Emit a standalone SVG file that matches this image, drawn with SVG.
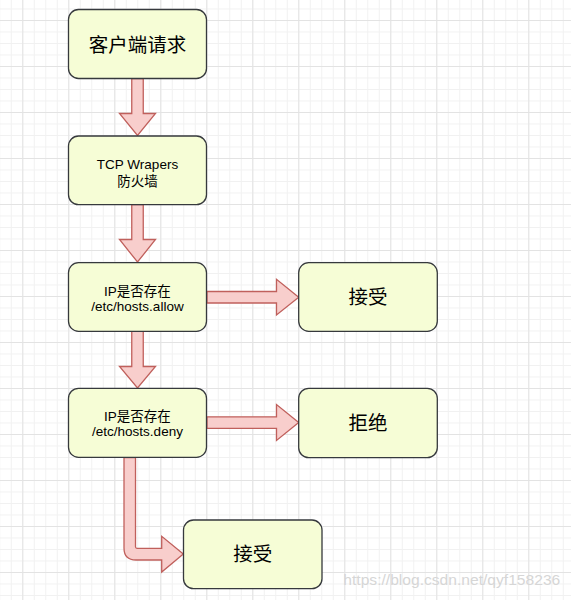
<svg xmlns="http://www.w3.org/2000/svg" width="571" height="600" viewBox="0 0 571 600">
<defs>
<pattern id="minor" x="-0.7" y="-3" width="11.5" height="11.5" patternUnits="userSpaceOnUse">
<path d="M0 0.5 H11.5 M0.5 0 V11.5" stroke="#f1f1f1" stroke-width="1" fill="none"/>
</pattern>
<pattern id="major" x="22.3" y="20" width="46" height="46" patternUnits="userSpaceOnUse">
<path d="M0 0.5 H46 M0.5 0 V46" stroke="#e3e3e3" stroke-width="1" fill="none"/>
</pattern>
<style>
.box{fill:#f6fdd6;stroke:#36393d;stroke-width:1.3}
.arr{fill:#f8cecc;stroke:#c0605c;stroke-width:1.3;stroke-linejoin:miter}
.big{font-family:"Liberation Sans","Noto Sans CJK SC",sans-serif;font-size:19.5px;fill:#000;text-anchor:middle}
.sm{font-family:"Liberation Sans","Noto Sans CJK SC",sans-serif;font-size:13.5px;fill:#000;text-anchor:middle}
</style>
</defs>
<rect width="571" height="600" fill="#ffffff"/>
<rect width="571" height="600" fill="url(#minor)"/>
<rect width="571" height="600" fill="url(#major)"/>

<g id="connectors">
<path class="arr" d="M131.75,78.7 V113.5 H119.5 L137.5,135.5 L155.5,113.5 H143.25 V78.7 Z"/>
<path class="arr" d="M131.75,204.7 V239.5 H119.5 L137.5,262 L155.5,239.5 H143.25 V204.7 Z"/>
<path class="arr" d="M131.75,331.3 V366.5 H119.5 L137.5,388 L155.5,366.5 H143.25 V331.3 Z"/>
<path class="arr" d="M207,291.5 H276.5 V279.3 L298.7,297.2 L276.5,315 V303 H207 Z"/>
<path class="arr" d="M207,416.8 H276.5 V404.5 L298.7,422.5 L276.5,440.5 V428.3 H207 Z"/>
<path class="arr" d="M124,457.5 V548 Q124,560 136,560 H161.7 V572 L183.3,554 L161.7,536.3 V548.3 H137 Q135.5,548.3 135.5,546.8 V457.5 Z"/>
</g>

<g id="n1"><rect class="box" x="68.5" y="9.5" width="138" height="69" rx="10"/><text class="big" x="137.5" y="51.5">客户端请求</text></g>
<g id="n2"><rect class="box" x="68.5" y="136" width="138" height="68.7" rx="10"/><text class="sm" x="137.5" y="168.5">TCP Wrapers</text><text class="sm" x="137.5" y="185.5">防火墙</text></g>
<g id="n3"><rect class="box" x="68.5" y="262.7" width="138" height="68.6" rx="10"/><text class="sm" x="137.5" y="296">IP是否存在</text><text class="sm" x="137.5" y="311">/etc/hosts.allow</text></g>
<g id="n4"><rect class="box" x="298.7" y="262.7" width="138.6" height="68.6" rx="10"/><text class="big" x="368" y="304">接受</text></g>
<g id="n5"><rect class="box" x="68.5" y="388.3" width="138" height="69" rx="10"/><text class="sm" x="137.5" y="420.5">IP是否存在</text><text class="sm" x="137.5" y="435.5">/etc/hosts.deny</text></g>
<g id="n6"><rect class="box" x="298.7" y="388.3" width="138.6" height="69.4" rx="10"/><text class="big" x="368" y="430">拒绝</text></g>
<g id="n7"><rect class="box" x="183.5" y="520" width="138.5" height="68.7" rx="10"/><text class="big" x="252.7" y="561">接受</text></g>

<text x="343.3" y="584.7" textLength="217" lengthAdjust="spacingAndGlyphs" font-family="Liberation Sans, sans-serif" font-size="14.5" fill="#d6d6d6">https://blog.csdn.net/qyf158236</text>
</svg>
